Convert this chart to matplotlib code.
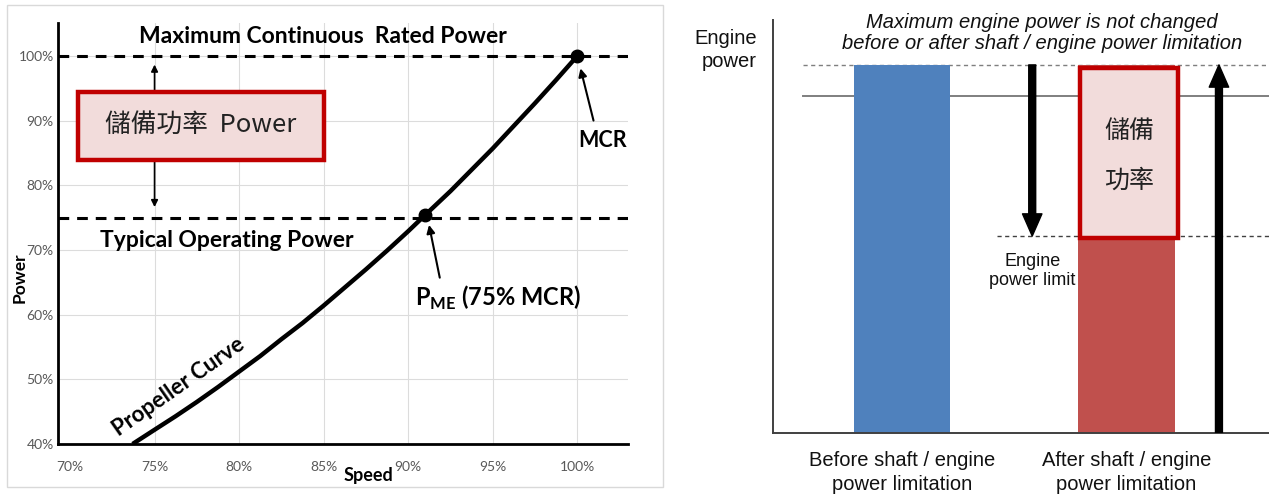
import matplotlib
matplotlib.use("Agg")
import matplotlib.pyplot as plt
import matplotlib.patches as mpatches

plt.rcParams['mathtext.fontset'] = 'custom'
plt.rcParams['mathtext.rm'] = 'Lato:bold'
plt.rcParams['mathtext.bf'] = 'Lato:bold'

# left chart: propeller curve (speed %, power %)
speed = [73.7, 75.0, 76.25, 77.5, 78.75, 80.0, 81.25, 82.5, 83.75, 85.0, 86.25, 87.5,
         88.75, 90.0, 91.0, 92.5, 93.75, 95.0, 96.25, 97.5, 98.75, 100.0]
power = [40.0, 42.2, 44.3, 46.5, 48.8, 51.2, 53.6, 56.2, 58.7, 61.4, 64.2, 67.0,
         69.9, 72.9, 75.4, 79.1, 82.4, 85.7, 89.2, 92.7, 96.3, 100.0]
mcr_point = (100.0, 100.0)
pme_point = (91.0, 75.4)
mcr_level = 100
typical_level = 75
speed_ticks = [70, 75, 80, 85, 90, 95, 100]
power_ticks = [40, 50, 60, 70, 80, 90, 100]

# right chart: engine power bars
categories = ["Before shaft / engine\npower limitation", "After shaft / engine\npower limitation"]
bar_values = [100, 100]
bar_colors = ["#4F81BD", "#C0504D"]
limit_value = 53.5
solid_level = 91.6

PINK = "#F2DCDB"
DARKRED = "#C00000"

fig = plt.figure(figsize=(12.69, 4.95), dpi=100)

# light frame round the left panel
fig.patches.append(mpatches.Rectangle((7 / 1269, 1 - 487 / 495), 656 / 1269, 482 / 495,
                                      transform=fig.transFigure, fill=False,
                                      edgecolor="#d9d9d9", lw=1))

# ---------------- left panel ----------------
ax = fig.add_axes([58 / 1269, 51 / 495, 570 / 1269, 421 / 495])
ax.set_xlim(69.29, 103.0)
ax.set_ylim(40, 105.1)
ax.set_xticks(speed_ticks)
ax.set_yticks(power_ticks)
ax.set_xticklabels([f"{t}%" for t in speed_ticks])
ax.set_yticklabels([f"{t}%" for t in power_ticks])
ax.tick_params(length=0, labelsize=10, labelcolor="#595959")
ax.tick_params(axis="x", pad=12)
ax.tick_params(axis="y", pad=3)
for lab in ax.get_xticklabels() + ax.get_yticklabels():
    lab.set_family("Lato")
ax.grid(True, color="#dcdcdc", lw=0.8)
ax.get_xgridlines()[0].set_visible(False)
ax.set_axisbelow(True)
for s in ["top", "right"]:
    ax.spines[s].set_visible(False)
for s in ["left", "bottom"]:
    ax.spines[s].set_linewidth(2)
    ax.spines[s].set_color("black")

ax.axhline(mcr_level, color="black", lw=2.2, dashes=(3.5, 2.6), zorder=3)
ax.axhline(typical_level, color="black", lw=2.2, dashes=(3.5, 2.6), zorder=3)
ax.plot(speed, power, color="black", lw=3.2, solid_capstyle="butt",
        solid_joinstyle="round", zorder=4)
ax.plot(*zip(mcr_point, pme_point), "o", color="black", ms=9, zorder=5)

ax.set_xlabel("Speed", fontfamily="Lato", fontweight="bold", fontsize=13)
ax.xaxis.set_label_coords((368 - 58) / 570, -23 / 421)
ax.set_ylabel("Power", fontfamily="Lato", fontweight="bold", fontsize=12.5)
ax.yaxis.set_label_coords((28 - 58) / 570, (444 - 278) / 421)

bold = dict(fontfamily="Lato", fontweight="bold", color="black")
ax.text(84.97, 103.0, "Maximum Continuous  Rated Power", ha="center", va="center",
        fontsize=16.5, **bold)
ax.text(71.77, 71.4, "Typical Operating Power", ha="left", va="center", fontsize=16.5, **bold)
ax.text(101.5, 87.0, "MCR", ha="center", va="center", fontsize=15.5, **bold)
ax.text(90.4, 62.6, r"P$_{\mathrm{ME}}$ (75% MCR)", ha="left", va="center", fontsize=17, **bold)
ax.text(76.4, 48.8, "Propeller Curve", ha="center", va="center", fontsize=16,
        rotation=35, rotation_mode="anchor", **bold)

ax.annotate("", xy=(100.15, 98.5), xytext=(101.0, 89.6),
            arrowprops=dict(arrowstyle="-|>", color="black", lw=1.5, mutation_scale=12))
ax.annotate("", xy=(91.2, 74.3), xytext=(91.9, 65.3),
            arrowprops=dict(arrowstyle="-|>", color="black", lw=1.5, mutation_scale=12))
ax.annotate("", xy=(75.0, 99.1), xytext=(75.0, 76.2),
            arrowprops=dict(arrowstyle="<|-|>", color="black", lw=1.2, mutation_scale=10),
            zorder=5)

ax.add_patch(mpatches.Rectangle((70.5, 83.9), 14.5, 10.5, facecolor=PINK,
                                edgecolor=DARKRED, lw=3.2, zorder=6, clip_on=False))
ax.text(77.75, 89.15, "儲備功率  Power", ha="center", va="center", fontsize=18.5,
        family=["Noto Sans CJK TC", "DejaVu Sans"], color="#222222", zorder=7)

# ---------------- right panel ----------------
ax2 = fig.add_axes([773 / 1269, 62 / 495, 496 / 1269, 413 / 495])
ax2.set_xlim(-0.575, 1.635)
ax2.set_ylim(0, 112.2)
for s in ["top", "right"]:
    ax2.spines[s].set_visible(False)
for s in ["left", "bottom"]:
    ax2.spines[s].set_color("#404040")
    ax2.spines[s].set_linewidth(1.4)
ax2.set_yticks([])
ax2.set_xticks([0, 1])
ax2.set_xticklabels(categories, fontfamily="Liberation Sans", fontsize=14.5, color="#111111",
                    linespacing=1.35)
ax2.tick_params(axis="x", length=0, pad=13)

ax2.bar([0, 1], bar_values, width=0.428, color=bar_colors, zorder=2)
ax2.plot([-0.44, 1.635], [bar_values[0]] * 2, color="#7f7f7f", lw=1, dashes=(3, 2.5), zorder=1)
ax2.plot([-0.44, 1.635], [solid_level] * 2, color="#7f7f7f", lw=1.4, zorder=1)
ax2.plot([0.423, 1.635], [limit_value] * 2, color="#404040", lw=1, dashes=(3, 2.5), zorder=1)

ax2.add_patch(mpatches.FancyArrowPatch((0.58, bar_values[0]), (0.58, limit_value),
                                       arrowstyle="simple,head_width=14,head_length=16,tail_width=5",
                                       color="black", shrinkA=0, shrinkB=0, zorder=4))
ax2.add_patch(mpatches.FancyArrowPatch((1.412, 0), (1.412, bar_values[1]),
                                       arrowstyle="simple,head_width=14,head_length=16,tail_width=5",
                                       color="black", shrinkA=0, shrinkB=0, zorder=4))

ax2.add_patch(mpatches.Rectangle((0.793, 53.0), 0.436, 46.2, facecolor=PINK,
                                 edgecolor=DARKRED, lw=3.2, zorder=5))
ax2.text(1.011, 75.2, "儲備\n功率", ha="center", va="center", fontsize=18,
         family=["Noto Sans CJK TC", "DejaVu Sans"], color="#222222", linespacing=2.2, zorder=6)

ax2.text(0.58, 44.0, "Engine\npower limit", ha="center", va="center", fontsize=13,
         fontfamily="Liberation Sans", color="#111111", linespacing=1.15)

fig.text(757 / 1269, 1 - 50 / 495, "Engine\npower", ha="right", va="center", fontsize=14.5,
         fontfamily="Liberation Sans", color="#111111", linespacing=1.25)
fig.text(1042 / 1269, 1 - 33 / 495,
         "Maximum engine power is not changed\nbefore or after shaft / engine power limitation",
         ha="center", va="center", fontsize=14.5, fontfamily="Liberation Sans",
         style="italic", color="#111111", linespacing=1.15)

fig.savefig("out.png", dpi=100)
